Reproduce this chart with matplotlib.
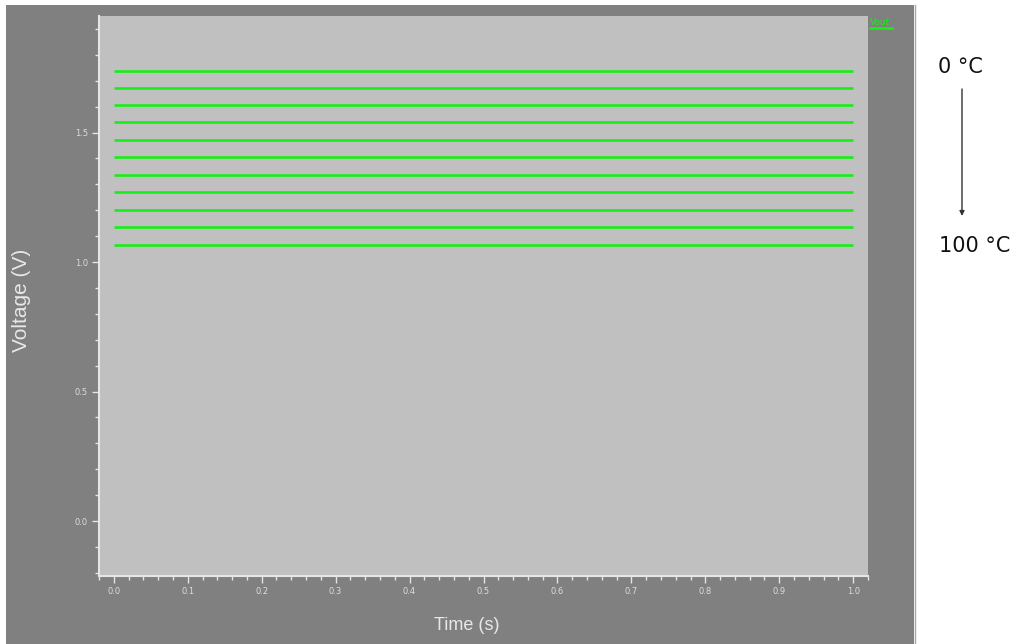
import matplotlib
matplotlib.use("Agg")
import matplotlib.pyplot as plt
from matplotlib.patches import Rectangle
from matplotlib.lines import Line2D
from matplotlib.ticker import MultipleLocator, FormatStrFormatter

# Output voltage traces, one per temperature (0 °C at top down to 100 °C)
temperatures = [0, 10, 20, 30, 40, 50, 60, 70, 80, 90, 100]
voltages = [1.737, 1.672, 1.606, 1.541, 1.471, 1.405, 1.336, 1.270, 1.201, 1.135, 1.066]
time_points = [0.0, 1.0]

W, H = 1020, 644
fig = plt.figure(figsize=(W / 100, H / 100), dpi=100)
fig.patch.set_facecolor("white")

# dark instrument panel behind the plot
fig.patches.append(Rectangle((6 / W, 0), (914 - 6) / W, (H - 5) / H,
                             transform=fig.transFigure, facecolor="#808080",
                             edgecolor="none", zorder=-5))
fig.lines.append(Line2D([915 / W, 915 / W], [0, (H - 5) / H], transform=fig.transFigure,
                        color="#a8a8a8", lw=1.0, zorder=-4))

ax = fig.add_axes([99 / W, (H - 576) / H, (868 - 99) / W, (576 - 16) / H])
ax.set_facecolor("#c0c0c0")

green = "#18ee18"
for v in voltages:
    ax.plot(time_points, [v, v], color=green, lw=1.9, solid_capstyle="butt")

ax.set_xlim(-0.02, 1.02)
ax.set_ylim(-0.212, 1.95)

light = "#e6e6e6"
for side in ("top", "right"):
    ax.spines[side].set_visible(False)
for side in ("left", "bottom"):
    ax.spines[side].set_color(light)
    ax.spines[side].set_linewidth(1.5)

ax.xaxis.set_major_locator(MultipleLocator(0.1))
ax.xaxis.set_minor_locator(MultipleLocator(0.02))
ax.yaxis.set_major_locator(MultipleLocator(0.5))
ax.yaxis.set_minor_locator(MultipleLocator(0.1))
ax.xaxis.set_major_formatter(FormatStrFormatter("%.1f"))
ax.yaxis.set_major_formatter(FormatStrFormatter("%.1f"))
ax.tick_params(which="major", direction="out", length=5, width=1, color=light,
               labelsize=6, labelcolor="#dcdcdc", pad=3)
ax.tick_params(which="minor", direction="out", length=3, width=1, color=light)

ax.set_xlabel("Time (s)", color="#e8e8e8", fontsize=13, family="Liberation Sans")
ax.set_ylabel("Voltage (V)", color="#e8e8e8", fontsize=15, family="Liberation Sans")
ax.xaxis.set_label_coords((467 - 99) / (868 - 99), -(617 - 576) / (576 - 16))
ax.yaxis.set_label_coords(-(99 - 31) / (868 - 99), (576 - 300) / (576 - 16))

# series key in the top-right corner
fig.text(870 / W, 1 - 25 / H, "Vout", color=green, fontsize=6.5, ha="left", va="baseline")
fig.lines.append(Line2D([870 / W, 892 / W], [1 - 27.5 / H, 1 - 27.5 / H], transform=fig.transFigure,
                        color=green, lw=1.8))

# temperature direction note
fig.text(960 / W, 1 - 67 / H, "0 °C", color="#111111", fontsize=15, ha="center", va="center")
fig.text(975 / W, 1 - 246 / H, "100 °C", color="#111111", fontsize=15, ha="center", va="center")
ax.annotate("", xy=(962 / W, 1 - 216 / H), xytext=(962 / W, 1 - 89 / H),
            xycoords="figure fraction", textcoords="figure fraction",
            arrowprops=dict(arrowstyle="-|>", color="#333333", lw=1.0,
                            mutation_scale=7, shrinkA=0, shrinkB=0))

fig.savefig("out.png", dpi=100, facecolor=fig.get_facecolor())
